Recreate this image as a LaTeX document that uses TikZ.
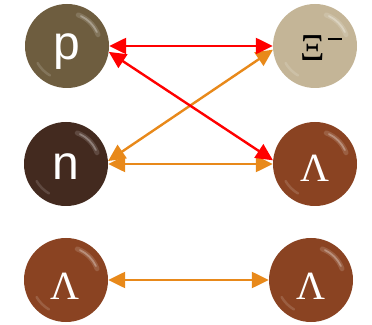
\documentclass[tikz,border=0pt]{standalone}
\usepackage{fontspec}
\setmainfont{Liberation Sans}
\newfontfamily\seriff{Liberation Serif}
\usetikzlibrary{arrows.meta,calc}
\definecolor{pcol}{HTML}{6E5D3F}
\definecolor{xicol}{HTML}{C4B597}
\definecolor{ncol}{HTML}{432A1F}
\definecolor{lcol}{HTML}{8A4322}
\definecolor{redc}{HTML}{FF0000}
\definecolor{orc}{HTML}{E8891A}
\tikzset{
  ball/.style={circle, minimum size=84pt, inner sep=0pt, fill=#1},
  sanslbl/.style={anchor=base, text=white, font=\fontsize{48}{48}\selectfont, inner sep=0pt},
  lamlbl/.style={anchor=base, text=white, font=\seriff\fontsize{40}{40}\selectfont, inner sep=0pt},
  xilbl/.style={anchor=base, text=black, font=\seriff\fontsize{38}{38}\selectfont, inner sep=0pt},
  link/.style={line width=2.4pt, {Triangle[length=17pt,width=16pt]}-{Triangle[length=17pt,width=16pt]}},
}
\newcommand{\shine}[1]{%
  \draw[white, opacity=0.15, line width=5pt, line cap=round]
    ($(#1.center)+(20:33)$) arc[start angle=20, end angle=70, radius=33];
  \draw[white, opacity=0.3, line width=1.8pt, line cap=round]
    ($(#1.center)+(25:33)$) arc[start angle=25, end angle=65, radius=33];
  \draw[white, opacity=0.15, line width=2.5pt, line cap=round]
    ($(#1.center)+(210:34)$) arc[start angle=210, end angle=240, radius=34];
}
\begin{document}
\begin{tikzpicture}[x=1pt,y=1pt]
\useasboundingbox (0,0) rectangle (372,324);
\node[ball=pcol] (p) at (67,278) {};
\node[ball=xicol] (xi) at (315,278) {};
\node[ball=ncol] (n) at (66,160) {};
\node[ball=lcol] (l1) at (315,160) {};
\node[ball=lcol] (l2) at (66,44) {};
\node[ball=lcol] (l3) at (311,44) {};
\shine{p}\shine{xi}\shine{n}\shine{l1}\shine{l2}\shine{l3}
\node[sanslbl] (pt) at (67,264) {p};
\node[sanslbl] (nt) at (66,144) {n};
\node[lamlbl] (l1t) at (315,142) {Λ};
\node[lamlbl] (l2t) at (65,25) {Λ};
\node[lamlbl] (l3t) at (311,25) {Λ};
\node[xilbl] (xit) at (321,263) {Ξ\hspace{3pt}\rule[21pt]{14pt}{1.8pt}};
\draw[link, orc] (xi.185) -- (n.4);
\draw[link, orc] (n.east) -- (l1.west);
\draw[link, orc] (l2.east) -- (l3.west);
\draw[link, redc] (p.east) -- (xi.west);
\draw[link, redc] (p.-8) -- (l1.175);
\end{tikzpicture}
\end{document}
